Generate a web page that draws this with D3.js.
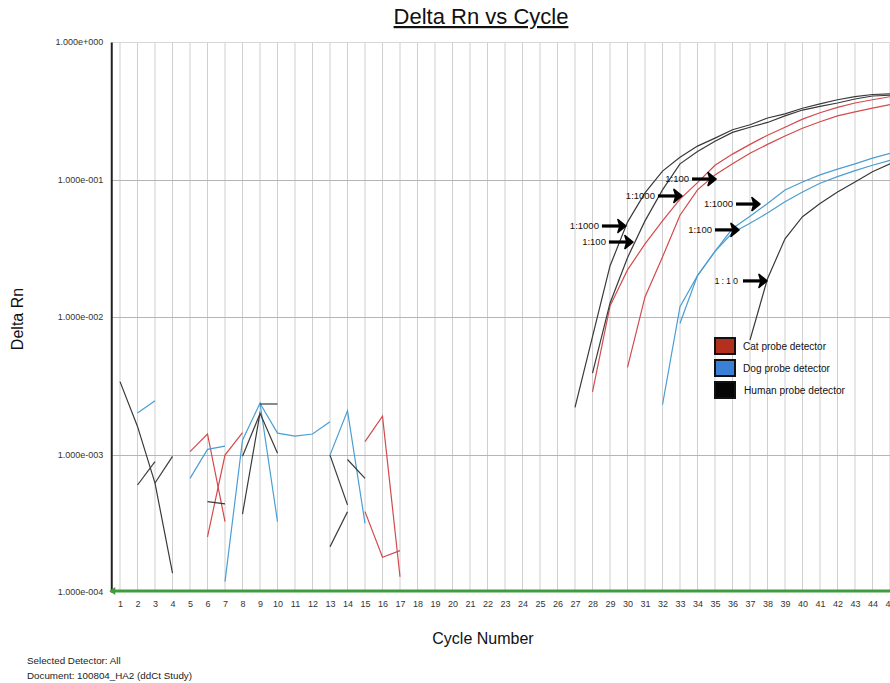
<!DOCTYPE html>
<html>
<head>
<meta charset="utf-8">
<script src="https://cdn.jsdelivr.net/npm/d3@7"></script>
<style>
  html, body { margin: 0; padding: 0; background: #fff; }
  svg { display: block; }
  text { font-family: Arial, "Liberation Sans", sans-serif; }
</style>
</head>
<body>
<svg id="chart" width="890" height="683"></svg>
<script>
// ---- data: Delta Rn per cycle for each well (runs begin at "first" cycle) ----
const cycleTicks = d3.range(1, 46);
const deltaRnTicks = [1e-4, 1e-3, 1e-2, 1e-1, 1];

const humanWells = [
  { first: 27, dRn: [0.0022, 0.0072, 0.0235, 0.049, 0.080, 0.115, 0.145, 0.175, 0.20, 0.23, 0.25, 0.28, 0.30, 0.33, 0.355, 0.38, 0.40, 0.415, 0.42] },
  { first: 28, dRn: [0.0039, 0.0126, 0.027, 0.050, 0.084, 0.13, 0.16, 0.19, 0.22, 0.24, 0.26, 0.29, 0.32, 0.34, 0.36, 0.385, 0.405, 0.41] },
  { first: 37, dRn: [0.0068, 0.019, 0.037, 0.0536, 0.067, 0.081, 0.096, 0.114, 0.13] },
  { first: 1,  dRn: [0.00339, 0.0016, 0.00062, 0.000137] },
  { first: 2,  dRn: [0.0006, 0.000887] },
  { first: 3,  dRn: [0.00062, 0.00097] },
  { first: 6,  dRn: [0.000454, 0.000437] },
  { first: 8,  dRn: [0.000369, 0.0020, 0.00102] },
  { first: 8,  dRn: [0.00097, 0.00198] },
  { first: 9,  dRn: [0.00233, 0.00233] },
  { first: 13, dRn: [0.00099, 0.00043] },
  { first: 13, dRn: [0.000213, 0.000384] },
  { first: 14, dRn: [0.00092, 0.00067] }
];

const catWells = [
  { first: 28, dRn: [0.00285, 0.012, 0.022, 0.034, 0.05, 0.072, 0.095, 0.127, 0.153, 0.18, 0.21, 0.24, 0.275, 0.306, 0.335, 0.36, 0.38, 0.40] },
  { first: 30, dRn: [0.0043, 0.014, 0.0273, 0.055, 0.084, 0.108, 0.13, 0.155, 0.18, 0.207, 0.236, 0.263, 0.29, 0.31, 0.33, 0.35] },
  { first: 5,  dRn: [0.00105, 0.00141, 0.000325] },
  { first: 6,  dRn: [0.000252, 0.00099, 0.00144] },
  { first: 15, dRn: [0.00124, 0.0019, 0.000129] },
  { first: 15, dRn: [0.000384, 0.000179, 0.0002] }
];

const dogWells = [
  { first: 32, dRn: [0.0023, 0.0119, 0.020, 0.030, 0.044, 0.054, 0.067, 0.084, 0.096, 0.108, 0.119, 0.13, 0.143, 0.155] },
  { first: 33, dRn: [0.009, 0.020, 0.030, 0.041, 0.048, 0.057, 0.069, 0.081, 0.094, 0.105, 0.116, 0.127, 0.138] },
  { first: 2,  dRn: [0.0020, 0.00246] },
  { first: 5,  dRn: [0.00067, 0.00109, 0.00115] },
  { first: 7,  dRn: [0.000119, 0.00127, 0.00236, 0.000325] },
  { first: 9,  dRn: [0.00236, 0.00143, 0.00136, 0.00141, 0.00173] },
  { first: 13, dRn: [0.00099, 0.00208, 0.000316] }
];

// dilution call-outs: label and the (cycle, Delta Rn) point each arrow touches
const dilutionLabels = ["1:1000", "1:100", "1:1000", "1:100", "1:1000", "1:100", "1:10"];
const dilutionCycles = [29.91, 30.31, 33.11, 35.06, 37.57, 36.37, 37.97];
const dilutionDRn    = [0.0459, 0.0351, 0.0759, 0.1008, 0.0663, 0.043, 0.0183];

const detectorNames = ["Cat probe detector", "Dog probe detector", "Human probe detector"];

// ---- layout ----
const svg = d3.select("#chart");
const plotLeft = 111.25, plotRight = 890, plotTop = 42, plotBottom = 592;

const x = d3.scaleLinear().domain([0.5, 45]).range([plotLeft, plotRight]);
const y = d3.scaleLog().domain([1e-4, 1]).range([plotBottom, plotTop]);

const lineColor = { cat: "#d44a4c", dog: "#4a9ed3", human: "#3a3a3a" };
const swatchColor = ["#b3301f", "#3a80d6", "#050505"];

// title
svg.append("text")
  .attr("x", 481).attr("y", 24)
  .attr("text-anchor", "middle")
  .attr("font-size", 22)
  .attr("fill", "#111")
  .attr("text-decoration", "underline")
  .text("Delta Rn vs Cycle");

// vertical grid: one line per cycle
svg.append("g")
  .selectAll("line")
  .data(cycleTicks)
  .join("line")
  .attr("x1", d => x(d)).attr("x2", d => x(d))
  .attr("y1", plotTop).attr("y2", plotBottom)
  .attr("stroke", "#cfcfcf").attr("stroke-width", 1);

// horizontal grid: one line per decade
svg.append("g")
  .selectAll("line")
  .data(deltaRnTicks.filter(d => d > 1e-4))
  .join("line")
  .attr("x1", plotLeft).attr("x2", plotRight)
  .attr("y1", d => Math.round(y(d)) + 0.5).attr("y2", d => Math.round(y(d)) + 0.5)
  .attr("stroke", d => d === 1 ? "#d8d8d8" : "#b5b5b5").attr("stroke-width", 1);

// curves
const plot = svg.append("g");
plot.append("clipPath").attr("id", "plotclip")
  .append("rect").attr("x", plotLeft).attr("y", plotTop - 2)
  .attr("width", plotRight - plotLeft).attr("height", plotBottom - plotTop + 2);

const line = d3.line()
  .x(d => x(d[0]))
  .y(d => y(d[1]));

function drawWells(wells, color) {
  plot.append("g").attr("clip-path", "url(#plotclip)")
    .selectAll("path")
    .data(wells.map(w => w.dRn.map((v, i) => [w.first + i, v])))
    .join("path")
    .attr("d", line)
    .attr("fill", "none")
    .attr("stroke", color)
    .attr("stroke-width", 1.2);
}
drawWells(catWells, lineColor.cat);
drawWells(dogWells, lineColor.dog);
drawWells(humanWells, lineColor.human);

// y axis
const fmt = v => {
  const e = Math.round(Math.log10(v));
  return "1.000e" + (e < 0 ? "-" : "+") + String(Math.abs(e)).padStart(3, "0");
};
const yAxis = svg.append("g")
  .attr("transform", `translate(${plotLeft},0)`)
  .call(d3.axisLeft(y).tickValues(deltaRnTicks).tickFormat(fmt).tickSize(0).tickPadding(8));
yAxis.select(".domain").attr("stroke", "#222").attr("stroke-width", 2);
yAxis.selectAll("text").attr("font-size", 9).attr("fill", "#333").attr("font-family", "Arial, 'Liberation Sans', sans-serif");

// x axis labels
const xAxis = svg.append("g")
  .attr("transform", `translate(0,${plotBottom})`)
  .call(d3.axisBottom(x).tickValues(cycleTicks).tickFormat(d3.format("d")).tickSize(0).tickPadding(9));
xAxis.select(".domain").remove();
xAxis.selectAll("text").attr("font-size", 9).attr("fill", "#333").attr("font-family", "Arial, 'Liberation Sans', sans-serif");

// green baseline with its arrow
svg.append("line")
  .attr("x1", plotLeft).attr("x2", plotRight)
  .attr("y1", plotBottom - 1).attr("y2", plotBottom - 1)
  .attr("stroke", "#3f9c3f").attr("stroke-width", 3);
svg.append("path")
  .attr("d", `M${plotLeft - 2},${plotBottom - 1} l6,-4 l0,8 Z`)
  .attr("fill", "#3f9c3f");

// axis titles
svg.append("text")
  .attr("transform", "translate(23,319) rotate(-90)")
  .attr("text-anchor", "middle")
  .attr("font-size", 16).attr("fill", "#111")
  .text("Delta Rn");
svg.append("text")
  .attr("x", 483).attr("y", 644)
  .attr("text-anchor", "middle")
  .attr("font-size", 16).attr("fill", "#111")
  .text("Cycle Number");

// footer
svg.append("text").attr("x", 27).attr("y", 663.5).attr("font-size", 9.8).attr("fill", "#222")
  .text("Selected Detector: All");
svg.append("text").attr("x", 27).attr("y", 678.5).attr("font-size", 9.8).attr("fill", "#222")
  .text("Document: 100804_HA2 (ddCt Study)");

// dilution call-outs
const notes = svg.append("g");
dilutionLabels.forEach((label, i) => {
  const tx = x(dilutionCycles[i]), ty = y(dilutionDRn[i]);
  const g = notes.append("g").attr("transform", `translate(${tx},${ty})`);
  g.append("line")
    .attr("x1", -24).attr("x2", -5).attr("y1", 0).attr("y2", 0)
    .attr("stroke", "#000").attr("stroke-width", 3.2);
  g.append("path")
    .attr("d", "M0,0 L-8,-6.5 L-6,0 L-8,6.5 Z")
    .attr("fill", "#000").attr("stroke", "#000").attr("stroke-width", 1.6).attr("stroke-linejoin", "round");
  const t = g.append("text")
    .attr("x", -27).attr("y", 0).attr("dy", "0.35em")
    .attr("text-anchor", "end")
    .attr("font-size", 9.5).attr("fill", "#111")
    .text(label);
  if (label === "1:10") t.attr("letter-spacing", 2).attr("font-size", 9);
});

// legend
const legend = svg.append("g").attr("transform", "translate(715,338)");
detectorNames.forEach((name, i) => {
  const row = legend.append("g").attr("transform", `translate(0,${i * 22})`);
  row.append("rect")
    .attr("x", 0).attr("y", 0).attr("width", 20).attr("height", 16)
    .attr("fill", swatchColor[i]).attr("stroke", "#111").attr("stroke-width", 2);
  row.append("text")
    .attr("x", 28 + (i === 2 ? 1 : 0)).attr("y", 8).attr("dy", "0.35em")
    .attr("font-size", 10).attr("fill", "#111")
    .attr("font-family", "'Open Sans', Arial, sans-serif")
    .attr("textLength", [83, 87, 101][i])
    .attr("lengthAdjust", "spacingAndGlyphs")
    .text(name);
});
</script>
</body>
</html>
